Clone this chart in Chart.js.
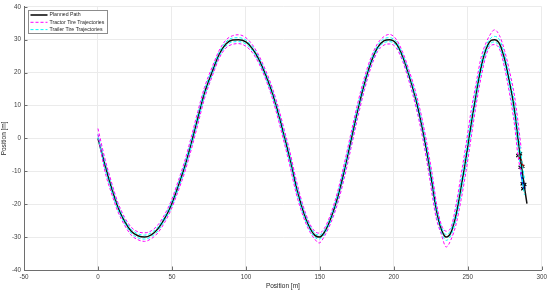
<!DOCTYPE html>
<html>
<head>
<meta charset="utf-8">
<script src="https://cdn.jsdelivr.net/npm/chart.js@4/dist/chart.umd.min.js"></script>
<style>
  html, body { margin: 0; padding: 0; background: #fff; }
  #wrap { width: 550px; height: 291px; }
</style>
</head>
<body>
<div id="wrap"><canvas id="chart-path" width="550" height="291"></canvas></div>
<script>
// planned path
var pathX = [0,4.5,9,13.5,18,22.5,27,31.5,36,40.5, 45,49.5,54,58.5,63,67.5,72,77.5,82,86.5,
  91,95,100,104.5,109,113.5,118,122.5,126,129.5, 134,138.5,143,146.5,149.5,153,157.5,162,166.5,171,
  175.5,180,184.5,189,193.5,197,201.5,206,210.5,215, 219.5,224,226.5,228.7,232,235.4,238.8,242.2,245.5,248.9,
  252.3,255.7,259,262.4,265.8,268,271.4,274.8,278.2,281.6, 283.8,286.1,288.3,290];
var pathY = [0,-7.7,-14.8,-20.9,-25.2,-28.2,-29.6,-30,-29.3,-27.5, -24.4,-20.3,-14.8,-8.8,-1.6,6.2,13.8,20.6,25.6,28.7,
  29.9,30,29.3,27.2,23.8,19.1,13.6,6.6,0.5,-5.7, -14.6,-21.8,-27,-29.4,-30,-28.6,-24.2,-18,-9.9,-0.8,
  8.3,16.4,23,27.6,29.7,30,28.9,24.8,18.7,11.6, 2.6,-8.6,-15.6,-21.8,-27.5,-30,-28.4,-22.9,-14.8,-5.7,
  4.4,13.6,21.6,27.2,29.8,30,28.8,24.2,17.1,8.5, 0.4,-7.7,-14.8,-19.8];

// tire trajectories (y read at the path x positions)
var tractorUpperY = [3.0,-5.8,-13.1,-19.5,-24.0,-27.0,-28.4,-28.7,-28.1,-26.3, -23.2,-19.0,-13.3,-7.1,0.3,8.2,15.5,22.0,26.8,29.9,
  31.2,31.5,30.6,28.4,25.0,20.5,15.2,8.5,2.5,-3.6, -12.6,-20.2,-25.8,-28.2,-28.8,-27.4,-22.8,-16.2,-7.7,1.5,
  10.5,18.3,24.5,28.8,31.0,31.6,30.2,26.2,20.4,13.7, 5.1,-5.7,-12.5,-19.4,-26.1,-28.2,-26.8,-19.9,-11.0,-1.6,
  8.5,16.9,24.6,29.1,32.0,33.0,31.3,26.8,20.5,12.9, 5.6,-3.0];
var tractorLowerY = [1.2,-9.6,-16.5,-22.3,-26.4,-29.4,-30.8,-31.3,-30.5,-28.7, -25.6,-21.6,-16.3,-10.5,-3.5,4.2,12.1,19.2,24.4,27.5,
  28.6,28.8,28.0,26.0,22.6,17.8,12.0,4.7,-1.5,-7.9, -16.7,-23.4,-28.2,-30.6,-31.8,-29.8,-25.6,-19.8,-12.1,-3.1,
  6.1,14.5,21.5,26.4,28.4,28.7,27.6,23.4,17.0,9.5, 0.1,-11.5,-18.8,-24.3,-29.0,-33.0,-30.6,-25.9,-18.6,-9.8,
  0.3,10.3,18.6,25.3,28.3,28.5,27.2,21.6,13.7,4.1, -4.8,-11.0];
var trailerUpperY = [1.2,-6.6,-13.8,-20.1,-24.6,-27.6,-29.0,-29.4,-28.7,-26.9, -23.8,-19.5,-13.9,-7.8,-0.5,7.4,14.8,21.5,26.3,29.3,
  30.5,30.6,29.9,27.8,24.5,19.9,14.6,7.7,1.7,-4.4, -13.4,-20.8,-26.3,-28.8,-29.4,-28.0,-23.4,-16.9,-8.6,0.6,
  9.6,17.5,23.9,28.2,30.3,30.6,29.5,25.6,19.7,12.8, 4.1,-6.9,-13.7,-20.3,-26.6,-29.2,-27.5,-21.3,-12.8,-3.5,
  6.6,15.4,23.2,28.2,30.6,31.0,30.0,25.6,18.9,10.8, 3.2,-5.1,-12.4];
var trailerLowerY = [0.3,-8.8,-15.8,-21.7,-25.8,-28.8,-30.2,-30.6,-29.9,-28.1, -25.0,-21.1,-15.7,-9.8,-2.7,5.0,12.8,19.7,24.9,28.1,
  29.3,29.4,28.7,26.6,23.1,18.3,12.6,5.5,-0.7,-7.0, -15.8,-22.8,-27.7,-30.0,-30.6,-29.2,-25.1,-19.1,-11.2,-2.2,
  7.0,15.3,22.1,27.0,29.1,29.4,28.3,24.0,17.7,10.4, 1.1,-10.4,-17.5,-23.3,-28.4,-31.0,-29.3,-24.5,-16.8,-7.9,
  2.2,11.8,20.0,26.2,29.0,29.3,27.8,22.8,15.3,6.2, -2.4,-10.3,-17.2];

// vehicle at the end of the run
var tractorBodyX = [284.5, 287.2];
var tractorBodyY = [-4.7, -8.8];
var trailerBodyX = [286.1, 288.3];
var trailerBodyY = [-10.3, -15.3];
var tireX = [283.8, 285.6, 285.4, 287.2, 286.8, 288.5, 287.2];
var tireY = [-5.2, -4.7, -8.8, -8.5, -13.8, -14, -15.3];

var xTicks = [-50, 0, 50, 100, 150, 200, 250, 300];
var yTicks = [-40, -30, -20, -10, 0, 10, 20, 30, 40];
var legendLabels = ["Planned Path", "Tractor Tire Trajectories", "Trailer Tire Trajectories"];

var FONT = "'Liberation Sans', Arial, Helvetica, sans-serif";

function pts(xs, ys) {
  return ys.map(function(y, i) { return { x: xs[i], y: y }; });
}

function tireLine(ys, color) {
  return {
    data: pts(pathX, ys), showLine: true, borderColor: color, borderWidth: 1,
    borderDash: [3, 2], pointRadius: 0, cubicInterpolationMode: 'monotone', fill: false
  };
}

// MATLAB style inward ticks
var innerTicks = {
  id: 'innerTicks',
  afterDraw: function(chart) {
    var ctx = chart.ctx, a = chart.chartArea;
    var sx = chart.scales.x, sy = chart.scales.y;
    ctx.save();
    ctx.strokeStyle = '#6e6e6e';
    ctx.lineWidth = 1;
    ctx.beginPath();
    xTicks.forEach(function(v) {
      var p = Math.round(sx.getPixelForValue(v)) + 0.5;
      ctx.moveTo(p, a.bottom); ctx.lineTo(p, a.bottom - 3.5);
    });
    yTicks.forEach(function(v) {
      var p = Math.round(sy.getPixelForValue(v)) + 0.5;
      ctx.moveTo(a.left, p); ctx.lineTo(a.left + 3.5, p);
    });
    ctx.stroke();
    ctx.restore();
  }
};

// legend box inside the axes, top left
var boxLegend = {
  id: 'boxLegend',
  afterDraw: function(chart) {
    var ctx = chart.ctx;
    var x0 = 28.5, y0 = 10.5, w = 79, h = 23;
    var styles = [
      { color: '#111111', width: 1.6, dash: [] },
      { color: '#ff00ff', width: 1, dash: [3, 2] },
      { color: '#00ffff', width: 1, dash: [3, 2] }
    ];
    ctx.save();
    ctx.fillStyle = '#ffffff';
    ctx.fillRect(x0, y0, w, h);
    ctx.strokeStyle = '#8c8c8c';
    ctx.lineWidth = 1;
    ctx.strokeRect(x0, y0, w, h);
    ctx.font = '5.2px ' + FONT;
    ctx.textBaseline = 'middle';
    ctx.fillStyle = '#262626';
    legendLabels.forEach(function(txt, i) {
      var yy = y0 + 4.5 + i * 7.3;
      var s = styles[i];
      ctx.beginPath();
      ctx.setLineDash(s.dash);
      ctx.strokeStyle = s.color;
      ctx.lineWidth = s.width;
      ctx.moveTo(x0 + 2, yy); ctx.lineTo(x0 + 19, yy);
      ctx.stroke();
      ctx.setLineDash([]);
      ctx.fillText(txt, x0 + 21, yy);
    });
    ctx.restore();
  }
};

var chart_content = document.getElementById("chart-path");

new Chart(chart_content, {
  type: 'scatter',
  data: {
    datasets: [
      tireLine(tractorUpperY, '#ff00ff'),
      tireLine(tractorLowerY, '#ff00ff'),
      tireLine(trailerUpperY, '#00ffff'),
      tireLine(trailerLowerY, '#00ffff'),
      {
        data: pts(pathX, pathY), showLine: true, borderColor: '#111111', borderWidth: 1.5,
        pointRadius: 0, cubicInterpolationMode: 'monotone', fill: false
      },
      {
        data: pts(tractorBodyX, tractorBodyY), showLine: true, borderColor: '#e00000',
        borderWidth: 2.5, pointRadius: 0
      },
      {
        data: pts(trailerBodyX, trailerBodyY), showLine: true, borderColor: '#0030ff',
        borderWidth: 2.5, pointRadius: 0
      },
      {
        data: pts(tireX, tireY), showLine: false, pointStyle: 'crossRot', pointRadius: 2.2,
        borderColor: '#000000', borderWidth: 1.2
      }
    ]
  },
  options: {
    responsive: false,
    animation: false,
    devicePixelRatio: 1,
    layout: { padding: { top: 6, right: 8, left: 0, bottom: 0 } },
    plugins: {
      legend: { display: false },
      tooltip: { enabled: false }
    },
    scales: {
      x: {
        type: 'linear', min: -50, max: 300,
        afterBuildTicks: function(s) { s.ticks = xTicks.map(function(v) { return { value: v }; }); },
        afterFit: function(s) { s.height = 21; },
        grid: { color: '#ebebeb', lineWidth: 1, drawTicks: false },
        border: { display: true, color: '#6e6e6e', width: 1 },
        ticks: { color: '#404040', padding: 3, font: { family: FONT, size: 6.3 }, maxRotation: 0 },
        title: { display: true, text: 'Position [m]', color: '#262626', padding: { top: 0, bottom: 1 },
          font: { family: FONT, size: 6.5 } }
      },
      y: {
        type: 'linear', min: -40, max: 40,
        afterBuildTicks: function(s) { s.ticks = yTicks.map(function(v) { return { value: v }; }); },
        afterFit: function(s) { s.width = 24; },
        grid: { color: '#ebebeb', lineWidth: 1, drawTicks: false },
        border: { display: true, color: '#6e6e6e', width: 1 },
        ticks: { color: '#404040', padding: 3, font: { family: FONT, size: 6.3 } },
        title: { display: true, text: 'Position [m]', color: '#262626', padding: { top: 0, bottom: 2 },
          font: { family: FONT, size: 6.5 } }
      }
    }
  },
  plugins: [innerTicks, boxLegend]
});
</script>
</body>
</html>
